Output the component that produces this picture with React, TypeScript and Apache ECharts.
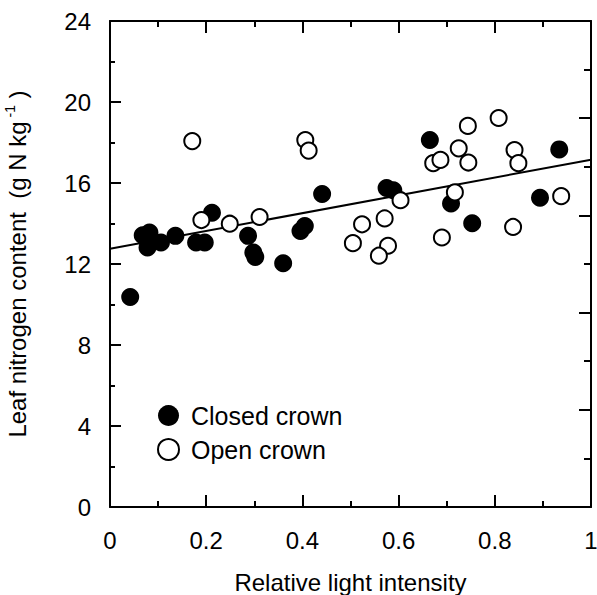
import React, { useEffect, useRef } from "react";
import * as echarts from "echarts";

const closedX = [0.042, 0.068, 0.082, 0.078, 0.106, 0.136, 0.179, 0.197, 0.212, 0.287, 0.298, 0.302, 0.36, 0.396, 0.405, 0.441, 0.575, 0.589, 0.665, 0.709, 0.753, 0.894, 0.934];
const closedY = [10.37, 13.42, 13.55, 12.82, 13.06, 13.39, 13.06, 13.06, 14.53, 13.39, 12.57, 12.35, 12.04, 13.63, 13.88, 15.46, 15.75, 15.64, 18.12, 14.99, 14.01, 15.27, 17.66];
const openX = [0.171, 0.19, 0.249, 0.311, 0.406, 0.413, 0.505, 0.524, 0.571, 0.578, 0.559, 0.604, 0.672, 0.687, 0.69, 0.725, 0.744, 0.745, 0.717, 0.808, 0.841, 0.849, 0.838, 0.938];
const openY = [18.07, 14.17, 13.99, 14.32, 18.12, 17.6, 13.03, 13.96, 14.25, 12.9, 12.41, 15.15, 16.98, 17.14, 13.31, 17.71, 18.82, 17.01, 15.54, 19.21, 17.63, 16.98, 13.83, 15.35];
const fitX = [0, 1];
const fitY = [12.75, 17.15];

const FONT = "'Liberation Sans', Arial, Helvetica, sans-serif";

export default function App() {
  const ref = useRef<HTMLDivElement>(null);
  useEffect(() => {
    if (!ref.current) return;
    const chart = echarts.init(ref.current, undefined, { renderer: "svg" });
    const lineStyle = { color: "#000", width: 2 };
    const baseAxis = {
      type: "value" as const,
      axisLine: { show: true, onZero: false, lineStyle },
      axisTick: { show: true, inside: true, length: 12, lineStyle },
      minorTick: { show: true, splitNumber: 2, length: 6, lineStyle },
      splitLine: { show: false },
      minorSplitLine: { show: false },
    };
    chart.setOption({
      animation: false,
      backgroundColor: "#fff",
      textStyle: { fontFamily: FONT, color: "#000" },
      grid: { left: 110, top: 21, right: 6, bottom: 88, containLabel: false, outerBoundsMode: "none" },
      legend: {
        orient: "vertical",
        left: 157,
        top: 403,
        padding: 0,
        itemWidth: 21,
        itemHeight: 21,
        itemGap: 9,
        icon: "circle",
        textStyle: { fontFamily: FONT, fontSize: 25, color: "#000", padding: [0, 0, 0, 7] },
        data: ["Closed crown", "Open crown"],
      },
      xAxis: [
        {
          ...baseAxis,
          position: "bottom",
          min: 0,
          max: 1,
          interval: 0.2,
          axisLabel: {
            show: true,
            margin: 21,
            fontSize: 24,
            color: "#000",
            fontFamily: FONT,
            formatter: (v: number) => (v === 0 ? "0" : v === 1 ? "1" : String(+v.toFixed(1))),
          },
          name: "Relative light intensity",
          nameLocation: "middle",
          nameGap: 63,
          nameTextStyle: { fontSize: 24, color: "#000", fontFamily: FONT },
        },
        {
          ...baseAxis,
          position: "top",
          min: 0,
          max: 1,
          interval: 0.2,
          axisTick: { show: true, inside: true, length: 12, lineStyle },
          axisLabel: { show: false },
        },
      ],
      yAxis: [
        {
          ...baseAxis,
          position: "left",
          min: 0,
          max: 24,
          interval: 4,
          axisTick: { show: true, inside: true, length: 11, lineStyle },
          minorTick: { show: true, splitNumber: 2, length: 5, lineStyle },
          axisLabel: { show: true, margin: 19, fontSize: 24, color: "#000", fontFamily: FONT },
          name: "{a|Leaf nitrogen content\u00a0\u00a0(g N kg}{s|\u00a0-1}{a|\u00a0)}",
          nameLocation: "middle",
          nameRotate: 90,
          nameGap: 81,
          nameTextStyle: {
            fontFamily: FONT,
            color: "#000",
            rich: {
              a: { fontSize: 24, fontFamily: FONT, color: "#000", lineHeight: 26, verticalAlign: "bottom" },
              s: { fontSize: 14, fontFamily: FONT, color: "#000", lineHeight: 26, verticalAlign: "top" },
            },
          },
        },
        {
          ...baseAxis,
          position: "right",
          min: 0,
          max: 1,
          interval: 0.2,
          axisTick: { show: true, inside: true, length: 12, lineStyle },
          minorTick: { show: true, splitNumber: 2, length: 7, lineStyle },
          axisLabel: { show: false },
        },
      ],
      series: [
        {
          name: "fit",
          type: "line",
          data: fitX.map((x, i) => [x, fitY[i]]),
          showSymbol: false,
          symbol: "none",
          lineStyle: { color: "#000", width: 2 },
          z: 1,
          silent: true,
        },
        {
          name: "Closed crown",
          type: "scatter",
          data: closedX.map((x, i) => [x, closedY[i]]),
          symbol: "circle",
          symbolSize: 18,
          itemStyle: { color: "#000", borderColor: "#000", borderWidth: 0, opacity: 1 },
          z: 2,
        },
        {
          name: "Open crown",
          type: "scatter",
          data: openX.map((x, i) => [x, openY[i]]),
          symbol: "circle",
          symbolSize: 16,
          itemStyle: { color: "#fff", borderColor: "#000", borderWidth: 2, opacity: 1 },
          z: 3,
        },
      ],
    });
    return () => chart.dispose();
  }, []);
  return (
    <div
      ref={ref}
      style={{ position: "fixed", left: 0, top: 0, width: 597, height: 595, background: "#fff" }}
    />
  );
}
